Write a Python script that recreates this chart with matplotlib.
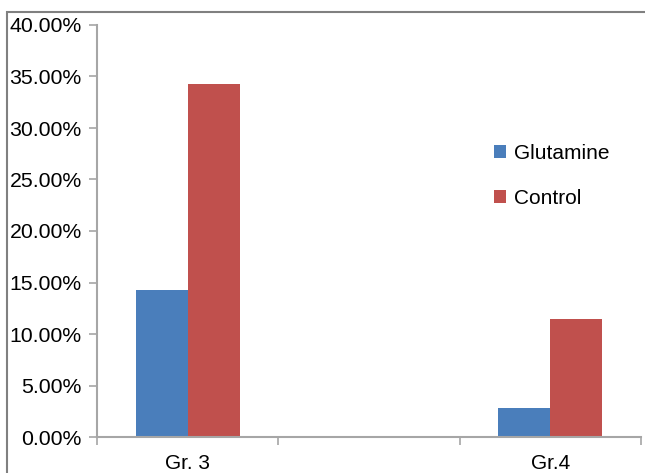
import numpy as np
import matplotlib
matplotlib.use("Agg")
import matplotlib.pyplot as plt
from matplotlib.patches import Rectangle
from matplotlib.ticker import PercentFormatter

plt.rcParams['font.family'] = ['Liberation Sans', 'DejaVu Sans']

# data (percent)
categories = ['Gr. 3', '', 'Gr.4']
glutamine = [14.29, np.nan, 2.86]
control = [34.29, np.nan, 11.43]

blue = '#4A7EBB'
red = '#C0504D'
axis_grey = '#A6A6A6'

fig = plt.figure(figsize=(6.45, 4.73), dpi=100)
ax = fig.add_axes([97/645, 36/473, (641-97)/645, (437-25)/473])

x = np.arange(len(categories))
w = 0.287
ax.bar(x - w/2, glutamine, w, color=blue, label='Glutamine')
ax.bar(x + w/2, control, w, color=red, label='Control')

ax.set_xlim(-0.5, len(categories) - 0.5)
ax.set_ylim(0, 40)
ax.set_yticks(np.arange(0, 41, 5))
ax.yaxis.set_major_formatter(PercentFormatter(decimals=2))

# category boundaries as ticks, labels in the middle
ax.set_xticks(np.arange(-0.5, len(categories), 1.0))
ax.set_xticklabels([])
ax.set_xticks(x, minor=True)
ax.set_xticklabels(categories, minor=True)
ax.tick_params(axis='x', which='minor', length=0, pad=12, labelsize=15)
ax.tick_params(axis='x', which='major', length=6, width=1.2, color=axis_grey, direction='out')
ax.tick_params(axis='y', length=6, width=1.2, color=axis_grey, pad=5, labelsize=15.3)

for s in ['top', 'right']:
    ax.spines[s].set_visible(False)
for s in ['left', 'bottom']:
    ax.spines[s].set_color(axis_grey)
    ax.spines[s].set_linewidth(1.5)

ax.legend(loc='center left', bbox_to_anchor=(475/645, 1 - 176/473),
          bbox_transform=fig.transFigure, frameon=False, fontsize=15,
          handlelength=0.6, handleheight=0.6, handletextpad=0.35,
          labelspacing=1.25)

# outer frame
fig.patches.append(Rectangle((7/645, -0.05), 1.1, 1 - 12/473 + 0.05,
                             transform=fig.transFigure, fill=False,
                             edgecolor='#808080', linewidth=1.5))

fig.savefig('out.png', dpi=100)
